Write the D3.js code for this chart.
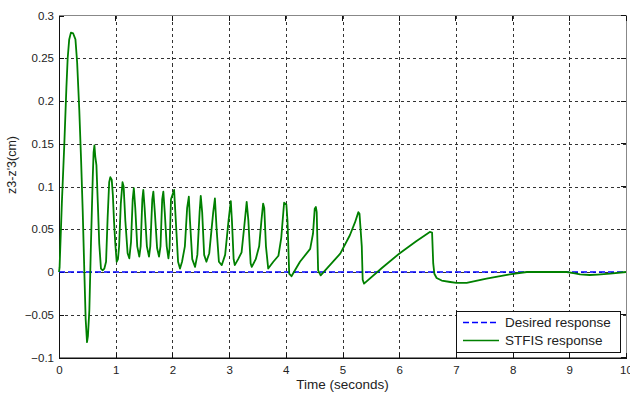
<!DOCTYPE html>
<html>
<head>
<meta charset="utf-8">
<script src="https://d3js.org/d3.v7.min.js"></script>
<style>
  body { margin: 0; background: #fff; }
  text { font-family: "Liberation Sans", Arial, sans-serif; fill: #222; }
</style>
</head>
<body>
<div id="chart"></div>
<script>
'use strict'

// values
const time = [0, 0.01, 0.05, 0.094, 0.13, 0.153, 0.18, 0.21, 0.25, 0.29, 0.32, 0.358, 0.39, 0.418, 0.447, 0.47, 0.494, 0.51, 0.535, 0.564, 0.595, 0.61, 0.625, 0.64, 0.66, 0.685, 0.71, 0.74, 0.77, 0.80, 0.83, 0.858, 0.885, 0.905, 0.93, 0.95, 0.97, 0.993, 1.017, 1.04, 1.06, 1.09, 1.12, 1.14, 1.17, 1.21, 1.24, 1.27, 1.30, 1.32, 1.345, 1.38, 1.416, 1.44, 1.47, 1.487, 1.51, 1.55, 1.587, 1.61, 1.645, 1.664, 1.69, 1.73, 1.764, 1.79, 1.82, 1.84, 1.865, 1.90, 1.93, 1.95, 1.975, 2.0, 2.03, 2.06, 2.10, 2.134, 2.17, 2.22, 2.26, 2.29, 2.31, 2.35, 2.40, 2.44, 2.48, 2.50, 2.525, 2.56, 2.60, 2.65, 2.72, 2.75, 2.78, 2.82, 2.87, 2.93, 2.99, 3.03, 3.05, 3.08, 3.10, 3.16, 3.22, 3.27, 3.31, 3.34, 3.38, 3.40, 3.47, 3.53, 3.57, 3.60, 3.62, 3.65, 3.69, 3.78, 3.87, 3.92, 3.97, 4.01, 4.03, 4.06, 4.10, 4.25, 4.43, 4.48, 4.51, 4.53, 4.545, 4.57, 4.615, 4.96, 5.13, 5.22, 5.28, 5.30, 5.34, 5.356, 5.38, 5.7, 6.01, 6.3, 6.54, 6.58, 6.6, 6.62, 6.66, 6.75, 6.9, 7.01, 7.19, 7.54, 7.95, 8.25, 8.95, 9.1, 9.19, 9.36, 9.5, 9.72, 10]
const stfis = [0, 0.005, 0.08, 0.15, 0.215, 0.25, 0.272, 0.28, 0.279, 0.272, 0.245, 0.189, 0.13, 0.072, 0.0, -0.055, -0.082, -0.075, -0.045, 0.034, 0.11, 0.14, 0.148, 0.135, 0.125, 0.08, 0.033, 0.004, 0.002, 0.004, 0.012, 0.064, 0.105, 0.111, 0.108, 0.09, 0.06, 0.033, 0.012, 0.015, 0.03, 0.08, 0.105, 0.1, 0.06, 0.022, 0.016, 0.035, 0.085, 0.098, 0.075, 0.03, 0.018, 0.03, 0.085, 0.096, 0.075, 0.03, 0.018, 0.03, 0.085, 0.094, 0.07, 0.028, 0.018, 0.03, 0.085, 0.094, 0.07, 0.03, 0.016, 0.028, 0.085, 0.09, 0.096, 0.06, 0.012, 0.004, 0.012, 0.03, 0.075, 0.088, 0.06, 0.015, 0.006, 0.02, 0.07, 0.089, 0.07, 0.02, 0.012, 0.022, 0.07, 0.086, 0.05, 0.012, 0.008, 0.02, 0.06, 0.083, 0.06, 0.015, 0.008, 0.015, 0.023, 0.055, 0.082, 0.06, 0.01, 0.006, 0.015, 0.03, 0.06, 0.08, 0.075, 0.03, 0.004, 0.012, 0.019, 0.04, 0.081, 0.079, 0.06, -0.002, -0.005, 0.012, 0.027, 0.045, 0.074, 0.076, 0.07, 0.002, -0.004, 0.0215, 0.043, 0.058, 0.07, 0.068, 0.03, -0.009, -0.0136, 0.005, 0.022, 0.036, 0.0468, 0.046, 0.01, -0.002, -0.007, -0.01, -0.0117, -0.0128, -0.0128, -0.0078, -0.0027, 0, 0, -0.0015, -0.0027, -0.0035, -0.003, -0.0019, 0]
const desiredTime = [0, 10]
const desired = [0, 0]
const xTicks = [0, 1, 2, 3, 4, 5, 6, 7, 8, 9, 10]
const yTicks = [-0.1, -0.05, 0, 0.05, 0.1, 0.15, 0.2, 0.25, 0.3]
const seriesNames = ["Desired response", "STFIS response"]

const width = 630, height = 399
const margin = {top: 15.5, right: 4, bottom: 41.5, left: 59}
const innerW = width - margin.left - margin.right
const innerH = height - margin.top - margin.bottom

const svg = d3.select("#chart").append("svg")
    .attr("width", width)
    .attr("height", height)

const x = d3.scaleLinear().domain([0, 10]).range([margin.left, width - margin.right])
const y = d3.scaleLinear().domain([-0.1, 0.3]).range([height - margin.bottom, margin.top])

// grid
const grid = svg.append("g")
    .attr("stroke", "#333")
    .attr("stroke-width", 1)
    .attr("stroke-dasharray", "3,3")
    .attr("shape-rendering", "crispEdges")
grid.selectAll(".vx").data(xTicks.slice(1, -1)).enter().append("line")
    .attr("x1", d => Math.round(x(d)) + 0.5).attr("x2", d => Math.round(x(d)) + 0.5)
    .attr("y1", y(0.3)).attr("y2", y(-0.1))
grid.selectAll(".hy").data(yTicks.slice(1, -1)).enter().append("line")
    .attr("y1", d => Math.round(y(d)) + 0.5).attr("y2", d => Math.round(y(d)) + 0.5)
    .attr("x1", x(0)).attr("x2", x(10))

// frame: top/right grey, left/bottom black
svg.append("rect")
    .attr("x", x(0)).attr("y", y(0.3))
    .attr("width", innerW).attr("height", innerH)
    .attr("fill", "none").attr("stroke", "#888")
    .attr("shape-rendering", "crispEdges")

// axes with inward ticks
const xAxis = svg.append("g")
    .attr("transform", "translate(0," + y(-0.1) + ")")
    .call(d3.axisBottom(x).tickValues(xTicks).tickSizeInner(-5).tickSizeOuter(0).tickPadding(8).tickFormat(d3.format("d")))
const yAxis = svg.append("g")
    .attr("transform", "translate(" + x(0) + ",0)")
    .call(d3.axisLeft(y).tickValues(yTicks).tickSizeInner(-5).tickSizeOuter(0).tickPadding(5).tickFormat(d => d3.format("")(+d.toFixed(2))))
;[xAxis, yAxis].forEach(function(a){
  a.selectAll("path,line").attr("stroke", "#111").attr("shape-rendering", "crispEdges")
  a.selectAll("text").style("font-size", "11.5px").attr("fill", "#222")
    .style("font-family", "'Liberation Sans', Arial, sans-serif")
})
// top and right ticks
svg.append("g").selectAll("line").data(xTicks).enter().append("line")
    .attr("x1", d => x(d)).attr("x2", d => x(d))
    .attr("y1", y(0.3)).attr("y2", y(0.3) + 5)
    .attr("stroke", "#111").attr("shape-rendering", "crispEdges")
svg.append("g").selectAll("line").data(yTicks).enter().append("line")
    .attr("y1", d => y(d)).attr("y2", d => y(d))
    .attr("x1", x(10)).attr("x2", x(10) - 5)
    .attr("stroke", "#111").attr("shape-rendering", "crispEdges")

// lines
const line = d3.line().x(d => x(d[0])).y(d => y(d[1]))
svg.append("path")
    .datum(desiredTime.map((t, i) => [t, desired[i]]))
    .attr("d", line)
    .attr("fill", "none").attr("stroke", "#0000ff")
    .attr("stroke-width", 1.6).attr("stroke-dasharray", "6,3")
svg.append("path")
    .datum(time.map((t, i) => [t, stfis[i]]))
    .attr("d", line)
    .attr("fill", "none").attr("stroke", "#008000")
    .attr("stroke-width", 1.8).attr("stroke-linejoin", "round")

// labels
svg.append("text")
    .attr("x", (x(0) + x(10)) / 2).attr("y", 389)
    .attr("text-anchor", "middle")
    .style("font-size", "13.5px")
    .text("Time (seconds)")
svg.append("text")
    .attr("transform", "translate(16,165) rotate(-90)")
    .attr("text-anchor", "middle")
    .style("font-size", "12.5px")
    .text("z3-z'3(cm)")

// legend
const lg = svg.append("g").attr("transform", "translate(456,311)")
lg.append("rect")
    .attr("width", 164).attr("height", 41)
    .attr("fill", "#fff").attr("stroke", "#111")
    .attr("shape-rendering", "crispEdges")
const legendItems = lg.selectAll(".item").data(seriesNames).enter().append("g")
    .attr("transform", (d, i) => "translate(0," + (11.5 + i * 18) + ")")
legendItems.append("line")
    .attr("x1", 7).attr("x2", 43)
    .attr("stroke", (d, i) => i === 0 ? "#0000ff" : "#008000")
    .attr("stroke-width", 1.6)
    .attr("stroke-dasharray", (d, i) => i === 0 ? "6,3" : null)
legendItems.append("text")
    .attr("x", 49).attr("y", 4.5)
    .style("font-size", "13.5px")
    .text(d => d)
</script>
</body>
</html>
